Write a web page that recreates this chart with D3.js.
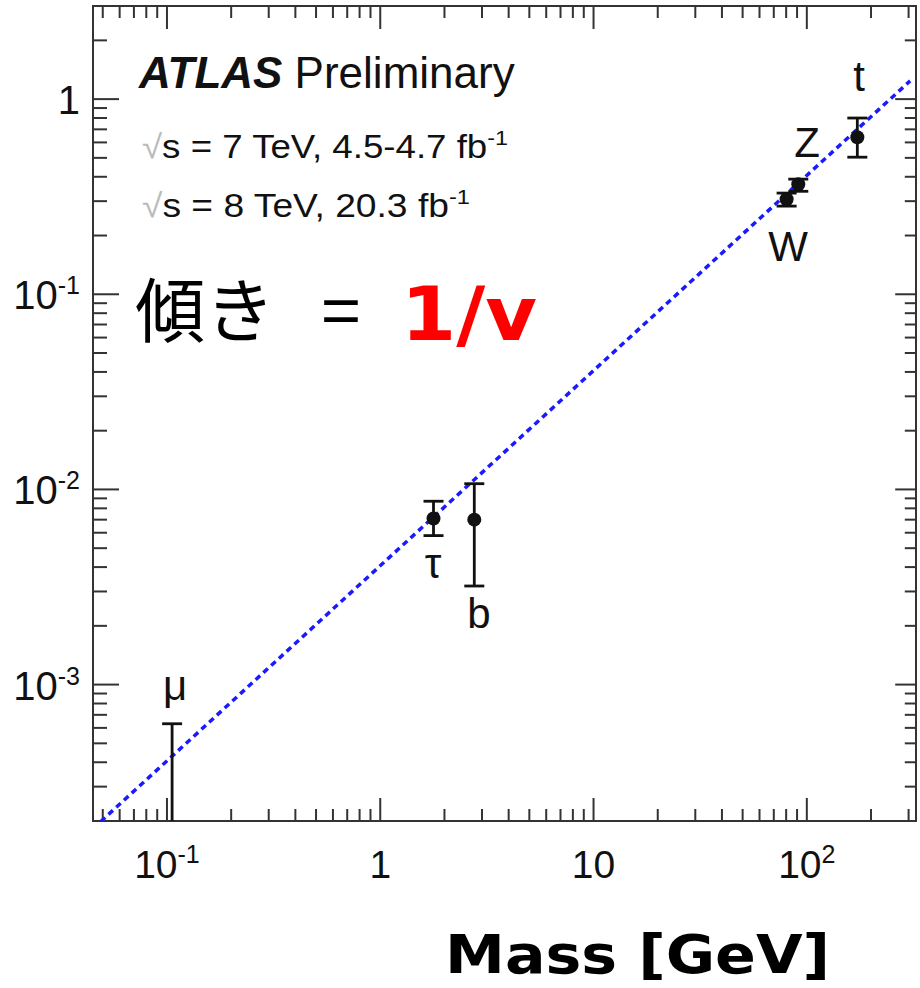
<!DOCTYPE html>
<html>
<head>
<meta charset="utf-8">
<script src="https://cdn.jsdelivr.net/npm/d3@7"></script>
<style>
  html, body { margin: 0; padding: 0; background: #fff; }
  svg { display: block; }
</style>
</head>
<body>
<script>
// particles: mass [GeV], coupling value and its error band
var particles = ['μ', 'τ', 'b', 'W', 'Z', 't'],
    masses    = [0.1057, 1.777, 2.76, 80.4, 91.19, 172.5],
    values    = [0.00015, 0.0071, 0.0070, 0.307, 0.366, 0.638],
    errLow    = [0.00001, 0.0058, 0.0032, 0.283, 0.337, 0.504],
    errHigh   = [0.00063, 0.0087, 0.0107, 0.330, 0.389, 0.800],
    vev = 246,
    lineMass = [0.045, 305],
    xMajor = [0.1, 1, 10, 100],
    xLabels = [['10', '-1'], ['1', ''], ['10', ''], ['10', '2']],
    yMajor = [0.001, 0.01, 0.1, 1],
    yLabels = [['10', '-3'], ['10', '-2'], ['10', '-1'], ['1', '']];

document.addEventListener("DOMContentLoaded", function() {
    var W = 920, H = 988,
        left = 93, right = 916, top = 6, bottom = 821,
        svg = d3.select('body').append('svg').attr('width', W).attr('height', H),
        x = d3.scaleLog().domain([0.045, 325]).range([left, right]),
        y = d3.scaleLog().domain([2e-4, 3]).range([bottom, top]),
        helv = "'Liberation Sans', Arial, sans-serif";

    function minorTicks(scale) {
        var d = scale.domain(), out = [];
        for (var e = -5; e <= 3; e++) {
            for (var k = 2; k <= 9; k++) {
                var v = k * Math.pow(10, e);
                if (v >= d[0] * 0.999 && v <= d[1] * 1.001) out.push(v);
            }
        }
        return out;
    }

    svg.append('clipPath').attr('id', 'plot')
        .append('rect').attr('x', left).attr('y', top)
        .attr('width', right - left).attr('height', bottom - top);

    // ticks on all four sides, pointing inward
    var ax = svg.append('g').attr('stroke', '#333').attr('stroke-width', 2);
    function ticks(vals, len, horizontal) {
        vals.forEach(function(v) {
            if (horizontal) {
                ax.append('line').attr('x1', x(v)).attr('x2', x(v)).attr('y1', bottom).attr('y2', bottom - len);
                ax.append('line').attr('x1', x(v)).attr('x2', x(v)).attr('y1', top).attr('y2', top + len);
            } else {
                ax.append('line').attr('y1', y(v)).attr('y2', y(v)).attr('x1', left).attr('x2', left + len);
                ax.append('line').attr('y1', y(v)).attr('y2', y(v)).attr('x1', right).attr('x2', right - len * 0.8);
            }
        });
    }
    ticks(minorTicks(x), 12, true);
    ticks(xMajor, 23, true);
    ticks(minorTicks(y), 14, false);
    ticks(yMajor, 26, false);

    ax.append('rect').attr('x', left).attr('y', top)
        .attr('width', right - left).attr('height', bottom - top)
        .attr('fill', 'none');

    // tick labels
    xMajor.forEach(function(v, i) {
        var t = svg.append('text').attr('x', x(v)).attr('y', 878)
            .attr('text-anchor', 'middle').attr('font-family', helv)
            .attr('font-size', 39).attr('fill', '#111');
        t.append('tspan').text(xLabels[i][0]);
        if (xLabels[i][1]) t.append('tspan').attr('dy', -15).attr('font-size', 25).text(xLabels[i][1]);
    });
    yMajor.forEach(function(v, i) {
        var t = svg.append('text').attr('x', 80).attr('y', y(v) + 15)
            .attr('text-anchor', 'end').attr('font-family', helv)
            .attr('font-size', 40).attr('fill', '#111');
        t.append('tspan').text(yLabels[i][0]);
        if (yLabels[i][1]) t.append('tspan').attr('dy', -15).attr('font-size', 25).text(yLabels[i][1]);
    });

    // theory line m / v
    var plot = svg.append('g').attr('clip-path', 'url(#plot)');
    plot.append('line')
        .attr('x1', x(lineMass[0])).attr('y1', y(lineMass[0] / vev))
        .attr('x2', x(lineMass[1])).attr('y2', y(lineMass[1] / vev))
        .attr('stroke', '#1a1aff').attr('stroke-width', 3.5)
        .attr('stroke-dasharray', '6,4.5');

    // error bars and points
    masses.forEach(function(m, i) {
        var cx = x(m), g = plot.append('g').attr('stroke', '#111').attr('stroke-width', 2.8);
        g.append('line').attr('x1', cx).attr('x2', cx).attr('y1', y(errLow[i])).attr('y2', y(errHigh[i]));
        [errLow[i], errHigh[i]].forEach(function(e) {
            g.append('line').attr('x1', cx - 10).attr('x2', cx + 10).attr('y1', y(e)).attr('y2', y(e));
        });
        plot.append('circle').attr('cx', cx).attr('cy', y(values[i])).attr('r', 7).attr('fill', '#111');
    });

    // particle labels
    var labelPos = [[175, 700], [433, 578], [479, 628], [788, 261], [807, 157], [859, 91]];
    particles.forEach(function(p, i) {
        svg.append('text').attr('x', labelPos[i][0]).attr('y', labelPos[i][1])
            .attr('text-anchor', 'middle').attr('font-family', helv)
            .attr('font-size', 42).attr('fill', '#111').text(p);
    });

    // ATLAS text block
    var atlas = svg.append('text').attr('x', 139).attr('y', 88)
        .attr('font-family', helv).attr('font-size', 44).attr('fill', '#111');
    atlas.append('tspan').attr('font-weight', 'bold').attr('font-style', 'italic').text('ATLAS');
    atlas.append('tspan').text(' Preliminary');

    function energyLine(yy, body, len) {
        var t = svg.append('text').attr('x', 142).attr('y', yy)
            .attr('font-family', helv).attr('font-size', 33).attr('fill', '#111')
            .attr('textLength', len).attr('lengthAdjust', 'spacingAndGlyphs');
        t.append('tspan').attr('fill', '#bbb').attr('font-weight', 300).text('√');
        t.append('tspan').text(body);
        t.append('tspan').attr('dy', -13).attr('font-size', 21).text('-1');
    }
    energyLine(158, 's = 7 TeV, 4.5-4.7 fb', 366);
    energyLine(217, 's = 8 TeV, 20.3 fb', 328);

    // slope annotation
    svg.append('text').attr('x', 135).attr('y', 337)
        .attr('font-family', "'Noto Sans CJK JP', sans-serif").attr('font-size', 70)
        .attr('fill', '#000').text('傾き');
    svg.append('text').attr('x', 341).attr('y', 337).attr('text-anchor', 'middle')
        .attr('font-family', "'Noto Sans CJK JP', sans-serif").attr('font-size', 70)
        .attr('fill', '#000').text('=');
    svg.append('text').attr('x', 401).attr('y', 340)
        .attr('font-family', "'DejaVu Sans', Verdana, sans-serif").attr('font-weight', 'bold')
        .attr('font-size', 74).attr('fill', '#ff0000')
        .attr('textLength', 136).attr('lengthAdjust', 'spacingAndGlyphs').text('1/v');

    // axis title
    svg.append('text').attr('x', 445).attr('y', 973)
        .attr('font-family', "'DejaVu Sans', Verdana, sans-serif").attr('font-weight', 'bold')
        .attr('font-size', 53).attr('fill', '#000')
        .attr('textLength', 385).attr('lengthAdjust', 'spacingAndGlyphs').text('Mass [GeV]');
});
</script>
</body>
</html>
